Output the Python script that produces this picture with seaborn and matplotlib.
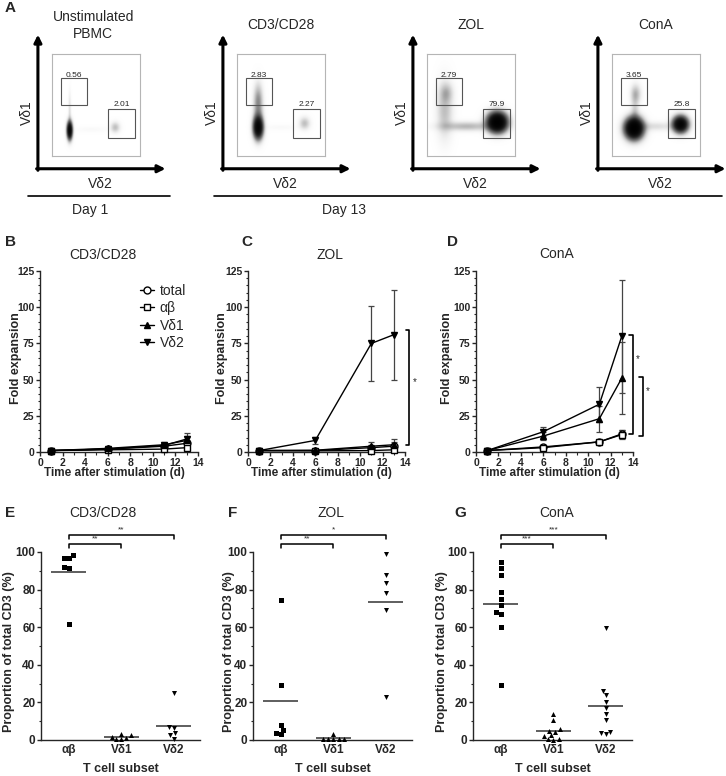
import numpy as np
import pandas as pd
import matplotlib
matplotlib.use('Agg')
import matplotlib.pyplot as plt
from matplotlib.lines import Line2D
from matplotlib.patches import Rectangle
from matplotlib.ticker import MultipleLocator
import seaborn as sns

# ---------------- data ----------------
# A: flow plots
flow_titles = ['Unstimulated\nPBMC', 'CD3/CD28', 'ZOL', 'ConA']
gate_vd1 = ['0.56', '2.83', '2.79', '3.65']
gate_vd2 = ['2.01', '2.27', '79.9', '25.8']
# cell populations: (x, y, spread x, spread y, density), gate-box units
flow_pops = [
    [(0.20, 0.25, 0.020, 0.055, 4.0), (0.20, 0.45, 0.010, 0.12, 0.25),
     (0.72, 0.28, 0.035, 0.035, 0.45), (0.45, 0.26, 0.14, 0.02, 0.05)],
    [(0.24, 0.28, 0.035, 0.07, 4.0), (0.24, 0.52, 0.035, 0.12, 0.8),
     (0.77, 0.32, 0.040, 0.04, 0.45), (0.50, 0.28, 0.15, 0.02, 0.05)],
    [(0.80, 0.33, 0.070, 0.06, 5.0), (0.45, 0.29, 0.20, 0.03, 0.5),
     (0.20, 0.45, 0.060, 0.18, 0.45), (0.22, 0.62, 0.05, 0.06, 0.35)],
    [(0.25, 0.27, 0.065, 0.065, 5.0), (0.78, 0.31, 0.055, 0.05, 4.0),
     (0.50, 0.29, 0.15, 0.03, 0.25), (0.27, 0.61, 0.04, 0.06, 0.45),
     (0.26, 0.45, 0.03, 0.12, 0.3)],
]

# B-D: fold expansion (rows: total, ab, Vd1, Vd2)
days = [1, 6, 11, 13]
subsets = ['total', 'αβ', 'Vδ1', 'Vδ2']
fold_cd28 = [[1.0, 2.0, 4.0, 6.0], [1.0, 1.5, 2.0, 3.0], [1.0, 2.5, 5.0, 8.0], [1.0, 2.0, 4.5, 9.0]]
sd_cd28 = [[0.3, 0.8, 1.5, 2.5], [0.3, 0.5, 1.0, 1.5], [0.3, 1.0, 2.0, 3.0], [0.3, 1.0, 2.0, 4.0]]
fold_zol = [[1.0, 1.0, 3.0, 4.0], [1.0, 0.8, 1.0, 1.5], [1.0, 1.2, 4.0, 5.0], [1.0, 8.0, 75.0, 81.0]]
sd_zol = [[0.3, 0.5, 2.0, 3.0], [0.2, 0.3, 0.8, 1.0], [0.3, 0.5, 3.0, 4.0], [0.3, 2.5, 26.0, 31.0]]
fold_cona = [[1.0, 3.5, 7.0, 12.5], [1.0, 3.0, 7.0, 12.0], [1.0, 11.0, 23.0, 51.0], [1.0, 14.0, 33.0, 80.0]]
sd_cona = [[0.3, 1.0, 1.5, 3.0], [0.3, 1.0, 1.5, 3.0], [0.3, 2.5, 9.0, 25.0], [0.3, 3.0, 12.0, 39.0]]
# brackets: (day, top, bottom, star y)
sig_zol = [(14.4, 84, 5, 48)]
sig_cona = [(14.0, 81, 12.5, 64), (14.9, 52, 11, 42)]

# E-G: proportion of total CD3
cats = ['αβ', 'Vδ1', 'Vδ2']
prop_cd28 = [[98.4, 97, 97, 92, 91.6, 61.7],
             [2.5, 1.2, 3.3, 0.3, 0.4, 1.8],
             [25, 7, 6.5, 3.5, 2.5, 0.5]]
prop_zol = [[74.5, 29, 8, 5.5, 3, 3.7],
            [3.2, 0.5, 0.3, 0.5, 0.4, 0.6],
            [98.8, 87.7, 83.6, 78.3, 69.4, 23.1]]
prop_cona = [[94.6, 91.4, 88, 78.8, 74.8, 72, 68, 67.2, 60.2, 29.4],
             [13.9, 10.8, 5.9, 4.9, 4.5, 2.7, 2.3, 0.5, 0.2, 0.5],
             [59.8, 26.1, 23.8, 20.2, 17.1, 13.9, 10.4, 4.5, 3.2, 3.6]]
stars_cd28 = ['**', '**']
stars_zol = ['**', '*']
stars_cona = ['***', '***']

# ---------------- style ----------------
sns.set_theme(style='ticks', rc={'axes.linewidth': 1.0, 'xtick.major.width': 1.0,
                                 'ytick.major.width': 1.0, 'xtick.major.size': 3,
                                 'ytick.major.size': 3, 'xtick.minor.size': 1.8,
                                 'ytick.minor.size': 1.8, 'xtick.minor.width': 0.8,
                                 'ytick.minor.width': 0.8})
plt.rcParams['font.family'] = ['Liberation Sans', 'DejaVu Sans']

W, H = 726, 776
fig = plt.figure(figsize=(W / 100, H / 100), dpi=100)


def fx(px):
    return px / W


def fy(py):
    return 1 - py / H


def add_ax(l, t, r, b):
    return fig.add_axes([fx(l), fy(b), fx(r) - fx(l), fy(t) - fy(b)])


# ---------------- A ----------------
gx, gy = np.meshgrid(np.linspace(0, 1, 220), np.linspace(0, 1, 220))
for k, left in enumerate([52, 237, 427, 612]):
    ax = add_ax(left, 54, left + 88, 156)
    den = np.zeros_like(gx)
    for (cx, cy, sx, sy, w) in flow_pops[k]:
        den += w * np.exp(-((gx - cx) ** 2 / (2 * sx ** 2) + (gy - cy) ** 2 / (2 * sy ** 2)))
    ax.imshow(1 - np.exp(-den), cmap='Greys', vmin=0, vmax=1, extent=(0, 1, 0, 1),
              origin='lower', aspect='auto', interpolation='bilinear')
    ax.set_xlim(0, 1)
    ax.set_ylim(0, 1)
    ax.set_xticks([])
    ax.set_yticks([])
    for s in ax.spines.values():
        s.set_color('#b5b5b5')
        s.set_linewidth(0.8)
    ax.add_patch(Rectangle((0.10, 0.50), 0.30, 0.26, fill=False, ec='#555555', lw=0.8))
    ax.add_patch(Rectangle((0.64, 0.18), 0.30, 0.28, fill=False, ec='#555555', lw=0.8))
    ax.text(0.25, 0.79, gate_vd1[k], ha='center', va='center', fontsize=6)
    ax.text(0.79, 0.50, gate_vd2[k], ha='center', va='center', fontsize=6)
    ax.annotate('', xy=(-0.16, 1.19), xytext=(-0.16, -0.14), xycoords='axes fraction',
                arrowprops=dict(arrowstyle='-|>', lw=2.2, color='black', mutation_scale=11,
                                shrinkA=0, shrinkB=0), annotation_clip=False)
    ax.annotate('', xy=(1.29, -0.125), xytext=(-0.175, -0.125), xycoords='axes fraction',
                arrowprops=dict(arrowstyle='-|>', lw=2.2, color='black', mutation_scale=11,
                                shrinkA=0, shrinkB=0), annotation_clip=False)
    ax.text(-0.29, 0.42, 'Vδ1', rotation=90, ha='center', va='center', fontsize=10,
            transform=ax.transAxes)
    ax.text(0.55, -0.27, 'Vδ2', ha='center', va='center', fontsize=10, transform=ax.transAxes)
    ax.text(0.47 if k == 0 else 0.5, 1.28, flow_titles[k], ha='center', va='center',
            fontsize=10, transform=ax.transAxes, linespacing=1.2)

fig.add_artist(Line2D([fx(28), fx(170)], [fy(196), fy(196)], color='black', lw=1.2))
fig.add_artist(Line2D([fx(214), fx(722)], [fy(196), fy(196)], color='black', lw=1.2))
fig.text(fx(90), fy(210), 'Day 1', ha='center', va='center', fontsize=10)
fig.text(fx(344), fy(210), 'Day 13', ha='center', va='center', fontsize=10)

# ---------------- B-D ----------------
line_markers = ['o', 's', '^', 'v']
line_faces = ['white', 'white', 'black', 'black']


def bold_ticks(ax):
    for lbl in ax.get_xticklabels() + ax.get_yticklabels():
        lbl.set_fontweight('bold')


def growth_panel(ax, fold, sd, sig, ylab_x):
    for i in range(len(subsets)):
        ax.errorbar(days, fold[i], yerr=sd[i], fmt='none', ecolor='#444444', elinewidth=0.9,
                    capsize=2.5, capthick=0.9, zorder=2, clip_on=False)
        sns.lineplot(x=days, y=fold[i], ax=ax, color='black', lw=1.0, marker=line_markers[i],
                     markersize=5, markerfacecolor=line_faces[i], markeredgecolor='black',
                     markeredgewidth=1.0, zorder=3 + i, clip_on=False)
    ax.set_xlim(0, 14)
    ax.set_ylim(0, 125)
    ax.set_xticks(range(0, 15, 2))
    ax.set_yticks(range(0, 126, 25))
    ax.xaxis.set_minor_locator(MultipleLocator(1))
    ax.yaxis.set_minor_locator(MultipleLocator(5))
    ax.tick_params(axis='both', which='major', labelsize=7.5, pad=1)
    bold_ticks(ax)
    sns.despine(ax=ax)
    ax.set_xlabel('Time after stimulation (d)', fontsize=8.5, fontweight='bold')
    ax.xaxis.set_label_coords(0.47, -0.085)
    ax.set_ylabel('Fold expansion', fontsize=9, fontweight='bold')
    ax.yaxis.set_label_coords(ylab_x, 0.52)
    for (d, top, bot, sy) in sig:
        ax.plot([d - 0.35, d, d, d - 0.35], [top, top, bot, bot], color='black', lw=1.2,
                clip_on=False)
        ax.text(d + 0.45, sy, '*', ha='center', va='center', fontsize=7)


axB = add_ax(40, 271, 198, 452)
growth_panel(axB, fold_cd28, sd_cd28, [], -0.115)
axC = add_ax(248, 271, 405, 452)
growth_panel(axC, fold_zol, sd_zol, sig_zol, -0.125)
axD = add_ax(476, 271, 633, 452)
growth_panel(axD, fold_cona, sd_cona, sig_cona, -0.145)

handles = [Line2D([0], [0], color='black', lw=1.0, marker=m, markersize=5,
                  markerfacecolor=f, markeredgecolor='black') for m, f in zip(line_markers, line_faces)]
axB.legend(handles, subsets, loc='upper left', bbox_to_anchor=(0.6, 0.96), frameon=False,
           fontsize=10, handlelength=1.0, handletextpad=0.4, labelspacing=0.25, borderaxespad=0)

fig.text(fx(103), fy(255), 'CD3/CD28', ha='center', va='center', fontsize=10)
fig.text(fx(330), fy(255), 'ZOL', ha='center', va='center', fontsize=10)
fig.text(fx(557), fy(254), 'ConA', ha='center', va='center', fontsize=10)

# ---------------- E-G ----------------
scatter_markers = ['s', '^', 'v']


def subset_panel(ax, groups, stars, ylab_x):
    df = pd.DataFrame({'subset': np.repeat(cats, [len(g) for g in groups]),
                       'pct': np.concatenate(groups)})
    for i, c in enumerate(cats):
        sns.swarmplot(data=df[df['subset'] == c], x='subset', y='pct', order=cats,
                      marker=scatter_markers[i], color='black', size=3.6, linewidth=0,
                      ax=ax, clip_on=False, zorder=3)
        mean = df.loc[df['subset'] == c, 'pct'].mean()
        ax.hlines(mean, i - 0.33, i + 0.33, color='#333333', lw=1.1, zorder=2)
    ax.set_xlim(-0.53, 2.5)
    ax.set_ylim(0, 100)
    ax.set_yticks(range(0, 101, 20))
    ax.yaxis.set_minor_locator(MultipleLocator(10))
    ax.tick_params(axis='y', which='major', labelsize=8.5, pad=1)
    ax.tick_params(axis='x', which='major', labelsize=8.5, length=0, pad=3)
    bold_ticks(ax)
    sns.despine(ax=ax)
    ax.set_xlabel('T cell subset', fontsize=9, fontweight='bold')
    ax.xaxis.set_label_coords(0.5, -0.125)
    ax.set_ylabel('Proportion of total CD3 (%)', fontsize=9, fontweight='bold')
    ax.yaxis.set_label_coords(ylab_x, 0.47)
    for j, (yb, right) in enumerate([(104, 1), (109, 2)]):
        ax.plot([0, 0, right, right], [yb - 2, yb, yb, yb - 2], color='black', lw=1.1,
                clip_on=False)
        ax.text(right / 2, yb + 1.0, stars[j], ha='center', va='bottom', fontsize=6)


axE = add_ax(41, 552, 200, 740)
subset_panel(axE, prop_cd28, stars_cd28, -0.165)
axF = add_ax(253, 552, 412, 740)
subset_panel(axF, prop_zol, stars_zol, -0.115)
axG = add_ax(473, 552, 632, 740)
subset_panel(axG, prop_cona, stars_cona, -0.16)

fig.text(fx(103), fy(513), 'CD3/CD28', ha='center', va='center', fontsize=10)
fig.text(fx(331), fy(513), 'ZOL', ha='center', va='center', fontsize=10)
fig.text(fx(557), fy(513), 'ConA', ha='center', va='center', fontsize=10)

# panel letters
for letter, (px, py) in zip('ABCDEFG', [(10, 8), (10, 242), (247, 242), (452, 242),
                                       (10, 513), (233, 513), (460, 513)]):
    fig.text(fx(px), fy(py), letter, ha='center', va='center', fontsize=11, fontweight='bold')

fig.savefig('out.png', dpi=100)
